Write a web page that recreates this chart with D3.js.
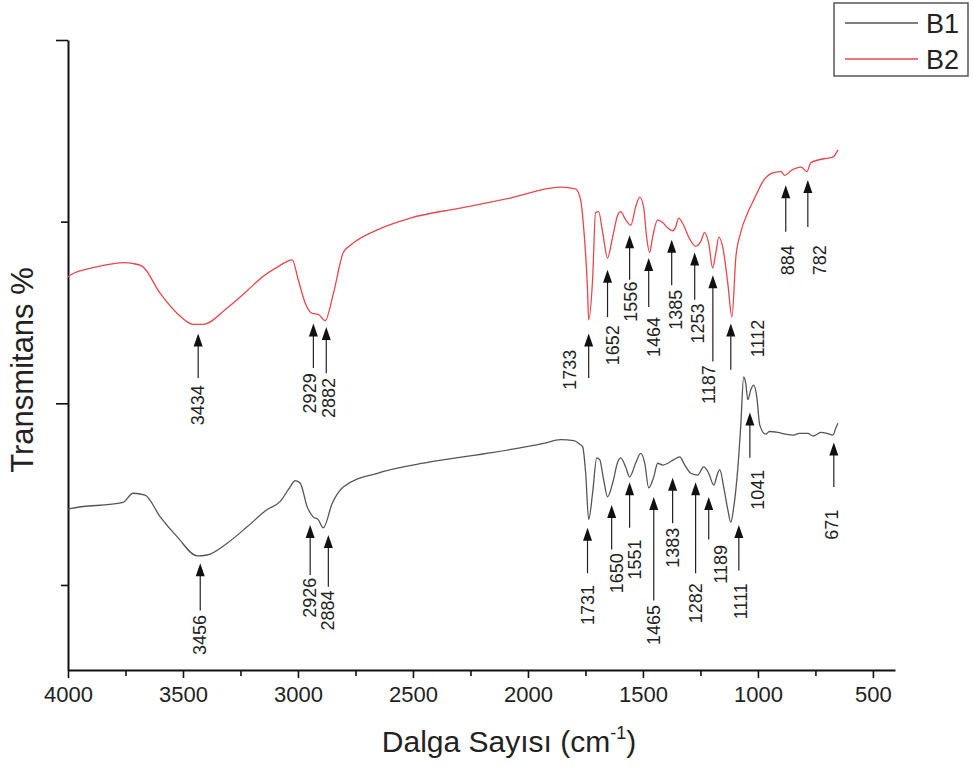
<!DOCTYPE html>
<html>
<head>
<meta charset="utf-8">
<script src="https://cdn.jsdelivr.net/npm/d3@7"></script>
<style>
body { margin: 0; background: #fff; }
svg { font-family: "Liberation Sans", Arial, sans-serif; }
</style>
</head>
<body>
<div id="chart"></div>
<script>
// B1 spectrum (grey), wavenumber in cm-1 and transmittance (arbitrary %)
const wnB1 = [4000, 3991, 3761, 3717, 3665, 3599, 3525, 3438, 3395, 3308, 3221, 3134, 3077, 3034, 3012, 2990, 2960, 2934, 2912, 2890, 2851, 2803, 2655, 2437, 2150, 1932, 1858, 1800, 1775, 1762, 1749, 1736, 1719, 1701, 1688, 1671, 1654, 1632, 1610, 1597, 1575, 1558, 1532, 1510, 1492, 1475, 1453, 1436, 1414, 1392, 1366, 1340, 1318, 1292, 1262, 1236, 1214, 1192, 1175, 1166, 1149, 1131, 1118, 1105, 1088, 1075, 1062, 1053, 1044, 1031, 1018, 1005, 992, 966, 950, 913, 880, 844, 820, 783, 760, 726, 700, 674, 661, 652];
const tB1 = [28.3, 28.4, 29.1, 30.1, 29.9, 27.5, 25.3, 23.2, 23.3, 24.6, 26.4, 28.3, 29.2, 30.8, 31.5, 31.2, 28.6, 27.5, 27.2, 26.3, 29.0, 30.8, 32.3, 33.5, 34.6, 35.6, 36.0, 35.9, 35.5, 35.2, 32.3, 27.2, 30.1, 34.0, 33.8, 31.6, 29.7, 31.2, 33.5, 34.0, 33.0, 31.9, 33.4, 34.5, 33.4, 30.7, 31.9, 33.4, 33.2, 33.4, 33.8, 34.1, 33.2, 32.3, 32.1, 33.0, 32.3, 31.0, 32.3, 32.7, 30.8, 28.3, 26.9, 28.6, 32.7, 37.4, 42.9, 42.2, 40.4, 41.5, 42.0, 40.7, 37.6, 36.6, 36.9, 36.8, 36.6, 36.5, 36.7, 36.7, 36.4, 36.8, 36.7, 36.5, 37.3, 37.8];

// B2 spectrum (red)
const wnB2 = [4000, 3991, 3880, 3752, 3720, 3678, 3599, 3525, 3456, 3412, 3308, 3221, 3151, 3090, 3025, 2999, 2968, 2938, 2912, 2882, 2846, 2803, 2772, 2655, 2511, 2294, 2076, 1858, 1793, 1771, 1758, 1741, 1736, 1719, 1706, 1693, 1675, 1654, 1632, 1610, 1597, 1575, 1553, 1532, 1514, 1497, 1484, 1471, 1458, 1436, 1414, 1392, 1371, 1358, 1345, 1323, 1301, 1271, 1249, 1232, 1214, 1197, 1183, 1170, 1153, 1131, 1113, 1096, 1075, 1044, 1018, 974, 931, 900, 883, 857, 813, 787, 770, 696, 674, 652];
const tB2 = [53.9, 54.1, 55.0, 55.5, 55.4, 55.1, 52.1, 49.9, 48.7, 48.7, 50.5, 52.4, 54.0, 55.0, 55.8, 53.6, 51.0, 49.9, 49.8, 49.1, 52.1, 56.6, 57.4, 59.1, 60.4, 61.5, 62.6, 63.8, 63.6, 62.4, 59.4, 52.5, 49.2, 53.6, 61.0, 61.1, 58.8, 56.0, 58.3, 60.7, 61.1, 60.2, 59.6, 61.6, 62.7, 61.6, 58.3, 56.6, 58.3, 60.2, 59.9, 59.3, 59.0, 59.4, 60.4, 59.6, 58.3, 57.3, 57.8, 58.8, 57.6, 54.9, 56.6, 58.3, 57.2, 53.2, 49.5, 56.1, 58.8, 61.0, 62.4, 64.6, 65.4, 65.5, 65.1, 65.6, 66.0, 65.5, 66.5, 67.0, 67.1, 67.9];

// peak labels: label, arrow position (cm-1), arrow tip / tail and label top (transmittance), label shift (px)
const peaksB2 = [
  { label: "3434", at: 3434, tip: 47.7, tail: 42.8, top: 42.0, dx: 0 },
  { label: "2929", at: 2933, tip: 48.8, tail: 43.9, top: 43.3, dx: -3 },
  { label: "2882", at: 2877, tip: 48.4, tail: 43.3, top: 42.8, dx: 3 },
  { label: "1733", at: 1736, tip: 47.7, tail: 42.8, top: 45.9, dx: -19 },
  { label: "1652", at: 1654, tip: 54.7, tail: 49.5, top: 48.6, dx: 5 },
  { label: "1556", at: 1558, tip: 58.5, tail: 53.6, top: 53.4, dx: 1 },
  { label: "1464", at: 1475, tip: 56.0, tail: 50.6, top: 49.5, dx: 5 },
  { label: "1385", at: 1375, tip: 58.0, tail: 53.0, top: 52.5, dx: 4 },
  { label: "1253", at: 1275, tip: 56.6, tail: 51.4, top: 51.0, dx: 3 },
  { label: "1187", at: 1196, tip: 54.1, tail: 44.6, top: 44.2, dx: -4 },
  { label: "1112", at: 1118, tip: 48.8, tail: 43.7, top: 49.2, dx: 27 },
  { label: "884", at: 879, tip: 64.0, tail: 58.9, top: 57.4, dx: 2 },
  { label: "782", at: 783, tip: 64.6, tail: 59.4, top: 57.4, dx: 12 }
];
const peaksB1 = [
  { label: "3456", at: 3425, tip: 22.4, tail: 17.2, top: 16.7, dx: 0 },
  { label: "2926", at: 2947, tip: 26.6, tail: 21.1, top: 20.8, dx: 0 },
  { label: "2884", at: 2868, tip: 25.5, tail: 19.8, top: 19.4, dx: 0 },
  { label: "1731", at: 1741, tip: 26.3, tail: 21.3, top: 20.0, dx: 0 },
  { label: "1650", at: 1636, tip: 28.8, tail: 23.9, top: 23.5, dx: 5 },
  { label: "1551", at: 1558, tip: 31.3, tail: 26.3, top: 25.0, dx: 5 },
  { label: "1465", at: 1453, tip: 29.7, tail: 18.3, top: 17.8, dx: 0 },
  { label: "1383", at: 1371, tip: 31.8, tail: 26.8, top: 26.3, dx: 0 },
  { label: "1282", at: 1271, tip: 31.3, tail: 21.3, top: 20.2, dx: 0 },
  { label: "1189", at: 1214, tip: 29.7, tail: 25.0, top: 24.4, dx: 12 },
  { label: "1111", at: 1083, tip: 26.6, tail: 21.6, top: 20.2, dx: 2 },
  { label: "1041", at: 1035, tip: 39.0, tail: 34.0, top: 32.7, dx: 8 },
  { label: "671", at: 670, tip: 35.7, tail: 30.8, top: 28.3, dx: -2 }
];

const xTicks = [4000, 3500, 3000, 2500, 2000, 1500, 1000, 500];
const xMinor = [3750, 3250, 2750, 2250, 1750, 1250, 750];
const yMajor = [40, 80];
const yMinor = [20, 60];

const series = [
  { name: "B1", color: "#555555", wn: wnB1, t: tB1, peaks: peaksB1 },
  { name: "B2", color: "#e8474c", wn: wnB2, t: tB2, peaks: peaksB2 }
];

const width = 973, height = 766;

const svg = d3.select("#chart")
  .append("svg")
  .attr("width", width)
  .attr("height", height);

const x = d3.scaleLinear().domain([4000, 404]).range([68, 895]);
const y = d3.scaleLinear().domain([10.64, 80]).range([670, 40]);

// axes
const xAxis = svg.append("g")
  .attr("transform", "translate(0,670)")
  .call(d3.axisBottom(x).tickValues(xTicks).tickFormat(d3.format("d"))
    .tickSize(8).tickPadding(8).tickSizeOuter(0));
svg.append("g")
  .attr("transform", "translate(0,670)")
  .call(d3.axisBottom(x).tickValues(xMinor).tickSize(6).tickFormat("").tickSizeOuter(0))
  .select(".domain").remove();

svg.append("g")
  .attr("transform", "translate(68,0)")
  .call(d3.axisLeft(y).tickValues(yMajor).tickSize(12).tickFormat("").tickSizeOuter(0));
svg.append("g")
  .attr("transform", "translate(68,0)")
  .call(d3.axisLeft(y).tickValues(yMinor).tickSize(7).tickFormat("").tickSizeOuter(0))
  .select(".domain").remove();

svg.selectAll(".domain").attr("stroke", "#111").attr("stroke-width", 2);
svg.selectAll(".tick line").attr("stroke", "#111").attr("stroke-width", 1.6);
xAxis.selectAll("text")
  .attr("font-size", 22)
  .attr("fill", "#222");

// axis titles
const xTitle = svg.append("text")
  .attr("x", 509)
  .attr("y", 752)
  .attr("text-anchor", "middle")
  .attr("font-size", 30)
  .attr("fill", "#222");
xTitle.append("tspan").text("Dalga Sayısı (cm");
xTitle.append("tspan").attr("font-size", 18).attr("dy", -13).text("-1");
xTitle.append("tspan").attr("dy", 13).text(")");

svg.append("text")
  .attr("transform", "translate(33,370) rotate(-90)")
  .attr("text-anchor", "middle")
  .attr("font-size", 31)
  .attr("fill", "#222")
  .text("Transmitans %");

// spectra
const line = d3.line()
  .x(d => x(d[0]))
  .y(d => y(d[1]))
  .curve(d3.curveMonotoneX);

svg.selectAll(".spectrum")
  .data(series)
  .enter()
  .append("path")
  .attr("class", "spectrum")
  .attr("fill", "none")
  .attr("stroke", d => d.color)
  .attr("stroke-width", 1.3)
  .attr("d", d => line(d3.zip(d.wn, d.t)));

// peak arrows
const peaks = series.flatMap(s => s.peaks);
const peak = svg.selectAll(".peak")
  .data(peaks)
  .enter()
  .append("g")
  .attr("class", "peak");

peak.append("line")
  .attr("x1", d => x(d.at))
  .attr("x2", d => x(d.at))
  .attr("y1", d => y(d.tail))
  .attr("y2", d => y(d.tip) + 11)
  .attr("stroke", "#222")
  .attr("stroke-width", 1.2);

peak.append("path")
  .attr("fill", "#111")
  .attr("d", d => {
    const px = x(d.at), py = y(d.tip);
    return "M" + (px - 4.5) + "," + (py + 13) + "L" + px + "," + py + "L" + (px + 4.5) + "," + (py + 13) + "Z";
  });

peak.append("text")
  .attr("transform", d => "translate(" + (x(d.at) + d.dx) + "," + y(d.top) + ") rotate(-90)")
  .attr("text-anchor", "end")
  .attr("dominant-baseline", "central")
  .attr("font-size", 18)
  .attr("fill", "#222")
  .text(d => d.label);

// legend
const legend = svg.append("g");
legend.append("rect")
  .attr("x", 834).attr("y", 3)
  .attr("width", 134).attr("height", 73)
  .attr("fill", "#fff")
  .attr("stroke", "#555")
  .attr("stroke-width", 1.5);

const item = legend.selectAll(".item")
  .data(series)
  .enter()
  .append("g")
  .attr("transform", (d, i) => "translate(0," + (23 + i * 36) + ")");

item.append("line")
  .attr("x1", 845).attr("x2", 918)
  .attr("stroke", d => d.color)
  .attr("stroke-width", 1.5);

item.append("text")
  .attr("x", 926)
  .attr("y", 10)
  .attr("font-size", 27)
  .attr("fill", "#222")
  .text(d => d.name);
</script>
</body>
</html>
